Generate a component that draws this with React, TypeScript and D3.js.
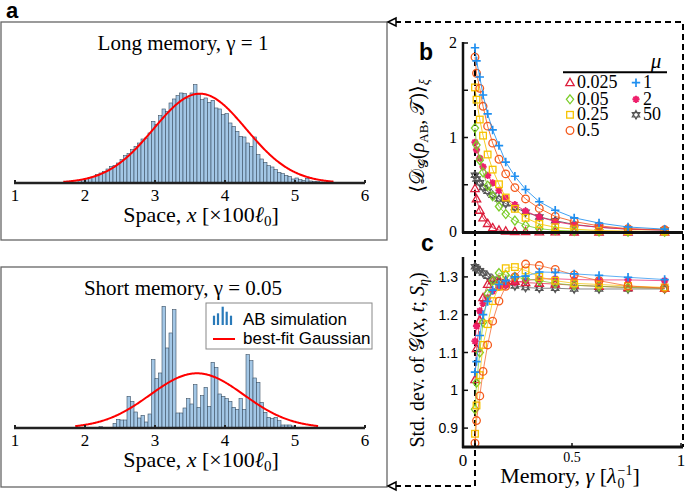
import React from 'react';
import * as d3 from 'd3';

// ---------- Panel a data ----------
const spaceTicks = [1, 2, 3, 4, 5, 6];
const binWidth = 0.05;
const longBinStart = 1.9;
const longMemHist = [7, 10, 13, 17, 20, 25, 30, 35, 42, 50, 52, 60, 70, 82, 88, 100, 110, 120, 132, 135, 150, 185, 175, 202, 222, 215, 240, 252, 262, 270, 268, 255, 270, 295, 265, 250, 255, 242, 248, 225, 222, 205, 208, 180, 170, 155, 140, 138, 120, 110, 138, 85, 72, 62, 52, 48, 40, 32, 28, 23, 20, 12, 15, 10, 8, 14, 6, 5, 4, 3, 2, 1];
const shortBinStart = 2.2;
const shortMemHist = [4, 0, 0, 0, 14, 26, 24, 24, 95, 80, 48, 30, 38, 18, 42, 205, 148, 165, 365, 240, 285, 355, 45, 45, 60, 88, 72, 130, 62, 97, 122, 65, 197, 182, 102, 95, 88, 80, 62, 56, 88, 56, 220, 202, 150, 137, 77, 47, 32, 29, 32, 22, 9, 9, 9, 6];
const longFitParams = [3.64, 0.66, 268, 1.69, 5.55]; // mean, sigma, peak, from, to
const shortFitParams = [3.6, 0.67, 164, 1.86, 5.33];

// ---------- Panel b/c data ----------
const gammas = [0.055, 0.062, 0.077, 0.092, 0.113, 0.136, 0.165, 0.196, 0.238, 0.287, 0.35, 0.423, 0.51, 0.624, 0.757, 0.925];
const muLabels = ['0.025', '0.05', '0.25', '0.5', '1', '2', '50'];
const muColors = ['#dd1f3c', '#7ccd2a', '#f6c300', '#f45a1c', '#1f8ff0', '#ee1f6b', '#555555'];
const muShapes = ['tri', 'dia', 'sq', 'circ', 'plus', 'ast', 'hex'];

const distB0025 = [0.46, 0.35, 0.23, 0.15, 0.09, 0.045, 0.02, 0.01, 0.005, 0.003, 0.002, 0.001, 0, 0, 0, 0];
const distB005 = [1.10, 0.92, 0.76, 0.63, 0.49, 0.38, 0.27, 0.19, 0.12, 0.07, 0.035, 0.018, 0.01, 0.006, 0.004, 0.003];
const distB025 = [1.53, 1.40, 1.19, 1.02, 0.82, 0.66, 0.505, 0.365, 0.245, 0.15, 0.085, 0.05, 0.03, 0.015, 0.01, 0.005];
const distB05 = [1.85, 1.68, 1.52, 1.33, 1.12, 0.94, 0.77, 0.615, 0.47, 0.35, 0.25, 0.165, 0.11, 0.065, 0.035, 0.025];
const distB1 = [1.95, 1.81, 1.64, 1.45, 1.25, 1.08, 0.915, 0.74, 0.59, 0.45, 0.32, 0.23, 0.15, 0.095, 0.053, 0.03];
const distB2 = [0.95, 0.87, 0.78, 0.69, 0.60, 0.52, 0.44, 0.36, 0.29, 0.22, 0.16, 0.11, 0.075, 0.05, 0.03, 0.02];
const distB50 = [0.60, 0.56, 0.52, 0.47, 0.43, 0.39, 0.35, 0.30, 0.26, 0.21, 0.16, 0.12, 0.08, 0.05, 0.03, 0.02];

const sdC0025 = [1.028, 1.11, 1.185, 1.245, 1.28, 1.29, 1.292, 1.29, 1.288, 1.285, 1.283, 1.281, 1.278, 1.275, 1.272, 1.27];
const sdC005 = [0.95, 1.02, 1.10, 1.18, 1.255, 1.29, 1.31, 1.305, 1.30, 1.295, 1.29, 1.283, 1.278, 1.275, 1.272, 1.27];
const sdC025 = [0.885, 0.96, 1.04, 1.12, 1.175, 1.236, 1.274, 1.323, 1.326, 1.317, 1.30, 1.29, 1.283, 1.28, 1.276, 1.272];
const sdC05 = [0.86, 0.92, 0.985, 1.05, 1.12, 1.183, 1.236, 1.275, 1.30, 1.334, 1.33, 1.32, 1.305, 1.29, 1.276, 1.27];
const sdC1 = [1.048, 1.076, 1.145, 1.2, 1.235, 1.265, 1.28, 1.29, 1.3, 1.302, 1.313, 1.312, 1.308, 1.304, 1.299, 1.293];
const sdC2 = [1.13, 1.17, 1.21, 1.23, 1.245, 1.262, 1.272, 1.278, 1.285, 1.29, 1.295, 1.295, 1.293, 1.292, 1.292, 1.29];
const sdC50 = [1.327, 1.322, 1.316, 1.31, 1.302, 1.294, 1.287, 1.28, 1.276, 1.272, 1.27, 1.27, 1.268, 1.268, 1.268, 1.268];

const distB = [distB0025, distB005, distB025, distB05, distB1, distB2, distB50];
const sdC = [sdC0025, sdC005, sdC025, sdC05, sdC1, sdC2, sdC50];

const bTicks = [0, 0.5, 1, 1.5, 2];
const bTickLabels = [0, 1, 2];
const cTicks = [0.9, 1, 1.1, 1.2, 1.3];
const gammaTicks = [0, 0.5, 1];

const SERIF = "'Liberation Serif', 'DejaVu Serif', serif";
const SANS = "'Liberation Sans', Arial, sans-serif";

function Marker({ shape, x, y, color }: { shape: string; x: number; y: number; color: string }) {
  switch (shape) {
    case 'tri':
      return <path d={`M${x},${y - 4.3}L${x + 4.2},${y + 3}L${x - 4.2},${y + 3}Z`} fill="none" stroke={color} strokeWidth={1.3} />;
    case 'dia':
      return <path d={`M${x},${y - 4.5}L${x + 3.6},${y}L${x},${y + 4.5}L${x - 3.6},${y}Z`} fill="none" stroke={color} strokeWidth={1.3} />;
    case 'sq':
      return <rect x={x - 3.3} y={y - 3.3} width={6.6} height={6.6} fill="none" stroke={color} strokeWidth={1.3} />;
    case 'circ':
      return <circle cx={x} cy={y} r={3.8} fill="none" stroke={color} strokeWidth={1.3} />;
    case 'plus':
      return <path d={`M${x - 4.2},${y}H${x + 4.2}M${x},${y - 4.2}V${y + 4.2}`} stroke={color} strokeWidth={1.7} />;
    case 'ast': {
      const r = 3.6;
      const d = [0, 45, 90, 135].map(a => {
        const rad = (a * Math.PI) / 180;
        const dx = r * Math.cos(rad), dy = r * Math.sin(rad);
        return `M${x - dx},${y - dy}L${x + dx},${y + dy}`;
      }).join('');
      return <path d={d} stroke={color} strokeWidth={1.9} />;
    }
    case 'hex': {
      const r = 4.4;
      const tri = (off: number) => [0, 1, 2].map(i => {
        const a = ((off + i * 120 - 90) * Math.PI) / 180;
        return `${i === 0 ? 'M' : 'L'}${x + r * Math.cos(a)},${y + r * Math.sin(a)}`;
      }).join('') + 'Z';
      return <path d={tri(0) + tri(60)} fill="none" stroke={color} strokeWidth={1.1} />;
    }
    default:
      return null;
  }
}

function HistPanel({ top, title, hist, binStart, fit, legend }: any) {
  const xA = d3.scaleLinear().domain([1, 6]).range([15, 365]);
  const base = top + 161;
  const h = d3.scaleLinear().domain([0, 365]).range([0, 121.7]);
  const [mean, sigma, peak, from, to] = fit;
  const xs = d3.range(from, to + 0.001, 0.01);
  const line = d3.line<number>()
    .x(v => xA(v))
    .y(v => base - h(peak * Math.exp(-((v - mean) ** 2) / (2 * sigma * sigma))));
  return (
    <g>
      <rect x={1} y={top} width={386} height={top === 22 ? 218 : 220} fill="none" stroke="#666" strokeWidth={1.3} />
      <text x={183} y={top + 28} textAnchor="middle" fontFamily={SERIF} fontSize={21}>{title}</text>
      {hist.map((c: number, i: number) => {
        const x0 = binStart + i * binWidth;
        if (c <= 0) return null;
        return (
          <rect key={i} x={xA(x0)} y={base - h(c)} width={xA(x0 + binWidth) - xA(x0)} height={h(c)}
            fill="#a3c7e6" stroke="#3a4f63" strokeWidth={0.6} />
        );
      })}
      <path d={line(xs) || ''} fill="none" stroke="#ff0000" strokeWidth={2} />
      <line x1={xA(1) - 1} x2={xA(6)} y1={base} y2={base} stroke="#222" strokeWidth={2.6} />
      {spaceTicks.map(t => (
        <g key={t}>
          <line x1={xA(t)} x2={xA(t)} y1={base} y2={base - 3} stroke="#222" strokeWidth={2} />
          <text x={xA(t)} y={base + 18} textAnchor="middle" fontFamily={SERIF} fontSize={17}>{t}</text>
        </g>
      ))}
      <text x={201} y={base + 39} textAnchor="middle" fontFamily={SERIF} fontSize={22}>
        Space, <tspan fontStyle="italic">x</tspan> [×100<tspan fontStyle="italic">ℓ</tspan>
        <tspan fontSize={15} dy={4}>0</tspan><tspan dy={-4}>]</tspan>
      </text>
      {legend && (
        <g>
          <rect x={206} y={303} width={166} height={46} fill="#fff" stroke="#888" strokeWidth={1} />
          {[[214, 315.7], [218, 313.3], [222.7, 306.7], [226.7, 311.7], [231, 315.7]].map(([bx, by], i) => (
            <line key={i} x1={bx} x2={bx} y1={325} y2={by} stroke="#2a7ab9" strokeWidth={2.2} />
          ))}
          <text x={243} y={325} fontFamily={SANS} fontSize={17}>AB simulation</text>
          <line x1={213} x2={235} y1={339} y2={339} stroke="#ff0000" strokeWidth={2} />
          <text x={243} y={344} fontFamily={SANS} fontSize={17}>best-fit Gaussian</text>
        </g>
      )}
    </g>
  );
}

export default function App() {
  const xR = d3.scaleLinear().domain([0, 1]).range([463, 681]);
  const yB = d3.scaleLinear().domain([0, 2]).range([232, 43]);
  const yC = d3.scaleLinear().domain([0.85, 1.35]).range([447, 258]);
  const lineB = (vals: number[]) => d3.line<number>().x((_, i) => xR(gammas[i])).y(v => yB(v))(vals) || '';
  const lineC = (vals: number[]) => d3.line<number>().x((_, i) => xR(gammas[i])).y(v => yC(v))(vals) || '';
  const order = [6, 5, 0, 1, 2, 3, 4];
  const dashX = xR(gammas[0]);

  const legendRows = [
    { i: 0, col: 0, row: 0 }, { i: 1, col: 0, row: 1 }, { i: 2, col: 0, row: 2 }, { i: 3, col: 0, row: 3 },
    { i: 4, col: 1, row: 0 }, { i: 5, col: 1, row: 1 }, { i: 6, col: 1, row: 2 },
  ];
  const rowY = [82.7, 99.3, 114.8, 130.5];

  return (
    <svg width={685} height={494} style={{ position: 'absolute', left: 0, top: 0, background: '#fff' }}>
      <rect x={0} y={0} width={685} height={494} fill="#fff" />
      <text x={6} y={18} fontFamily={SANS} fontWeight="bold" fontSize={22}>a</text>

      <HistPanel top={22} title="Long memory, γ = 1" hist={longMemHist} binStart={longBinStart} fit={longFitParams} legend={false} />
      <HistPanel top={267} title="Short memory, γ = 0.05" hist={shortMemHist} binStart={shortBinStart} fit={shortFitParams} legend={true} />

      {/* dashed connectors */}
      <path d={`M395,22H683V447`} fill="none" stroke="#000" strokeWidth={2} strokeDasharray="6 4" />
      <path d={`M${dashX},50V486H395`} fill="none" stroke="#000" strokeWidth={2} strokeDasharray="6 4" />
      <path d="M388,22L396,18L396,26Z" fill="#fff" stroke="#000" strokeWidth={1.5} />
      <path d="M388,486L396,482L396,490Z" fill="#fff" stroke="#000" strokeWidth={1.5} />

      {/* panel b */}
      <text x={419} y={60} fontFamily={SANS} fontWeight="bold" fontSize={23}>b</text>
      <text transform="translate(424,136) rotate(-90)" textAnchor="middle" fontFamily={SERIF} fontSize={20}>
        ⟨𝒟<tspan fontSize={14} dy={4}>𝒢</tspan><tspan dy={-4}>(</tspan><tspan fontStyle="italic">ρ</tspan>
        <tspan fontSize={13} dy={4}>AB</tspan><tspan dy={-4}>, 𝒯)⟩</tspan><tspan fontSize={14} fontStyle="italic" dy={5}>ξ</tspan>
      </text>
      {order.map(k => (
        <g key={'b' + k}>
          <path d={lineB(distB[k])} fill="none" stroke={muColors[k]} strokeWidth={1} strokeOpacity={0.85} />
          {distB[k].map((v, i) => <Marker key={i} shape={muShapes[k]} x={xR(gammas[i])} y={yB(v)} color={muColors[k]} />)}
        </g>
      ))}
      <line x1={463} x2={463} y1={42} y2={233} stroke="#111" strokeWidth={2.5} />
      <line x1={462} x2={683} y1={232.5} y2={232.5} stroke="#111" strokeWidth={3} />
      {bTicks.map(t => <line key={t} x1={463} x2={468} y1={yB(t)} y2={yB(t)} stroke="#111" strokeWidth={1.5} />)}
      {bTickLabels.map(t => (
        <text key={t} x={457} y={yB(t) + 5} textAnchor="end" fontFamily={SERIF} fontSize={16}>{t}</text>
      ))}
      {/* legend b */}
      <text x={656} y={68} textAnchor="middle" fontFamily={SERIF} fontStyle="italic" fontSize={21}>μ</text>
      <line x1={563} x2={667} y1={72.3} y2={72.3} stroke="#000" strokeWidth={2} />
      {legendRows.map(({ i, col, row }) => {
        const mx = col === 0 ? 570 : 636;
        const tx = col === 0 ? 577 : 643;
        return (
          <g key={'lg' + i}>
            <Marker shape={muShapes[i]} x={mx} y={rowY[row]} color={muColors[i]} />
            <text x={tx} y={rowY[row] + 5.5} fontFamily={SERIF} fontSize={18}>{muLabels[i]}</text>
          </g>
        );
      })}

      {/* panel c */}
      <text x={421} y={251} fontFamily={SANS} fontWeight="bold" fontSize={23}>c</text>
      <text transform="translate(424,360) rotate(-90)" textAnchor="middle" fontFamily={SERIF} fontSize={20}>
        Std. dev. of 𝒢(<tspan fontStyle="italic">x</tspan>, <tspan fontStyle="italic">t</tspan>; <tspan fontStyle="italic">S</tspan>
        <tspan fontSize={14} fontStyle="italic" dy={4}>η</tspan><tspan dy={-4}>)</tspan>
      </text>
      {order.map(k => (
        <g key={'c' + k}>
          <path d={lineC(sdC[k])} fill="none" stroke={muColors[k]} strokeWidth={0.9} strokeOpacity={0.8} />
          {sdC[k].map((v, i) => <Marker key={i} shape={muShapes[k]} x={xR(gammas[i])} y={yC(v)} color={muColors[k]} />)}
        </g>
      ))}
      <line x1={463} x2={463} y1={257} y2={448} stroke="#111" strokeWidth={2.5} />
      <line x1={462} x2={683} y1={447} y2={447} stroke="#111" strokeWidth={3} />
      {cTicks.map(t => (
        <g key={t}>
          <line x1={463} x2={468} y1={yC(t)} y2={yC(t)} stroke="#111" strokeWidth={1.5} />
          <text x={458} y={yC(t) + 5} textAnchor="end" fontFamily={SANS} fontSize={14}>{t}</text>
        </g>
      ))}
      {gammaTicks.map(t => (
        <g key={'g' + t}>
          <line x1={xR(t)} x2={xR(t)} y1={447} y2={443} stroke="#111" strokeWidth={1.5} />
          <text x={xR(t)} y={t === 0.5 ? 462 : 466} textAnchor="middle" fontFamily={SERIF} fontSize={t === 0.5 ? 14 : 17}>{t}</text>
        </g>
      ))}
      <text x={570} y={483} textAnchor="middle" fontFamily={SERIF} fontSize={22}>
        Memory, <tspan fontStyle="italic">γ</tspan> [<tspan fontStyle="italic">λ</tspan>
        <tspan fontSize={14} dy={5} dx={1}>0</tspan><tspan fontSize={14} dy={-13} dx={-7}>−1</tspan><tspan dy={8}>]</tspan>
      </text>
    </svg>
  );
}
